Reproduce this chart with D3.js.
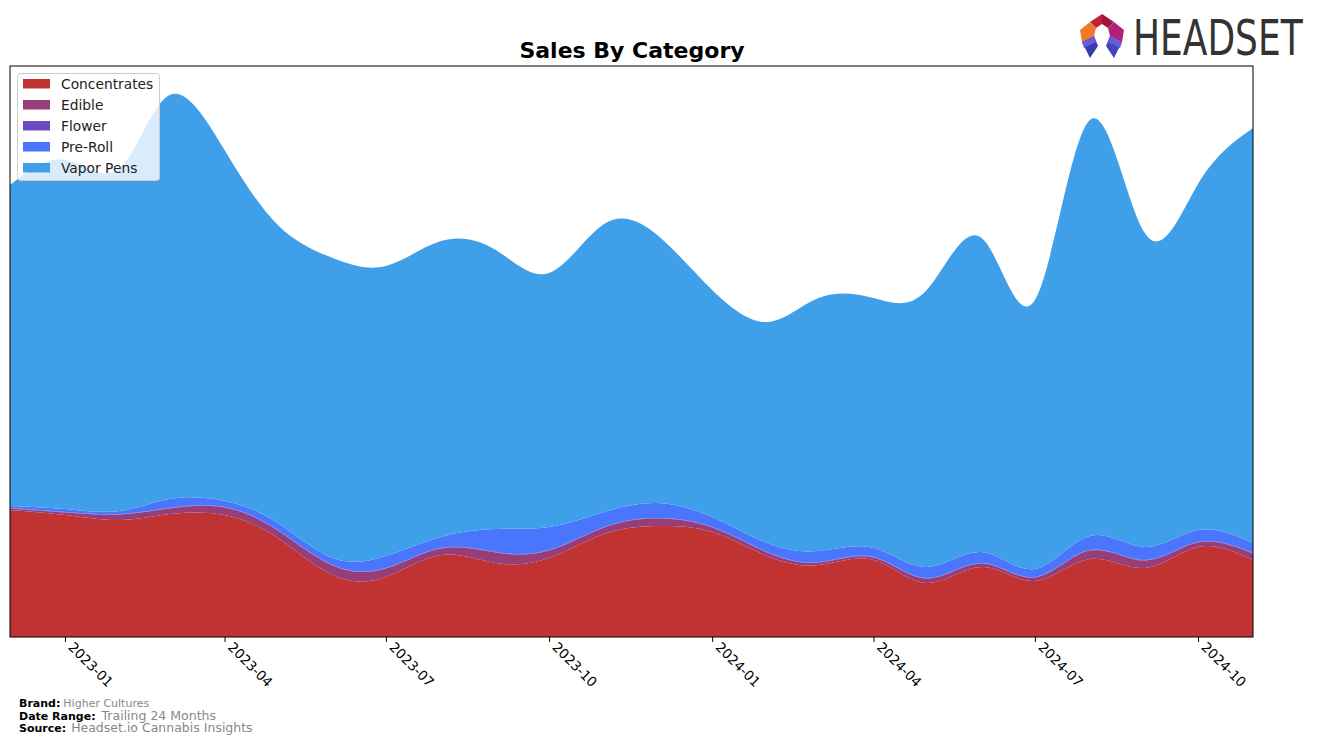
<!DOCTYPE html>
<html><head><meta charset="utf-8">
<script src="https://cdn.jsdelivr.net/npm/d3@7"></script>
<style>body{margin:0;background:#fff;} svg{display:block;font-family:"DejaVu Sans",sans-serif;}</style>
</head><body>
<svg id="c" width="1317" height="744"></svg>
<script>
const months = ["2022-12","2023-01","2023-02","2023-03","2023-04","2023-05","2023-06","2023-07","2023-08","2023-09","2023-10","2023-11","2023-12","2024-01","2024-02","2024-03","2024-04","2024-05","2024-06","2024-07","2024-08","2024-09","2024-10","2024-11"];
const categories = ["Concentrates","Edible","Flower","Pre-Roll","Vapor Pens"];
const concentrates = [127,122,117,123,122,99,62,60,82,74,79,103,111,105,81,72,77,54,70,56,78,69,90,77];
const edible = [1.5,2.5,5.5,5.5,7.5,7.5,9.5,8.5,6.5,10.5,7.5,6.5,7.5,4.5,3.5,2.5,2.5,4.5,3.5,3.5,8.5,7.5,4.5,6.5];
const flower = [0.6,0.6,0.5,0.5,0.5,0.5,0.5,0.5,0.5,0.5,0.5,0.5,0.5,0.5,0.5,0.5,0.5,0.5,0.5,0.5,0.5,0.5,0.5,0.5];
const preRoll = [2,3,3,9,6,7,7,12,11,23,23,15,15,10,9,11,9,11,11,8,14,13,12,10];
const vaporPens = [321,349,343,404,351,298,300,290,296,279,254,288,268,227,221,253,250,277,314,269,416,314,346,415];
const tickLabels = ["2023-01","2023-04","2023-07","2023-10","2024-01","2024-04","2024-07","2024-10"];
const colors = ["#c13232","#973d78","#6c4bc0","#4a76fd","#3fa0e9"];

const parse = d3.timeParse("%Y-%m");
const seriesVals = [concentrates, edible, flower, preRoll, vaporPens];
const table = months.map((m,i)=>{const o={date:parse(m)}; categories.forEach((c,j)=>o[c]=seriesVals[j][i]); return o;});

const svg = d3.select("#c");
const L=10,R=1253,T=66,B=637;
const x = d3.scaleTime().domain([parse(months[0]), parse(months[months.length-1])]).range([L,R]);
const y = d3.scaleLinear().domain([0,571]).range([B,T]);

const stack = d3.stack().keys(categories);
const layers = stack(table);
const area = d3.area().curve(d3.curveNatural)
  .x(d=>x(d.data.date)).y0(d=>y(d[0])).y1(d=>y(d[1]));

svg.append("defs").append("clipPath").attr("id","clip").append("rect")
  .attr("x",L).attr("y",T).attr("width",R-L).attr("height",B-T);
svg.append("g").attr("clip-path","url(#clip)").selectAll("path").data(layers).join("path")
  .attr("d",area).attr("fill",(d,i)=>colors[i]);

// frame
svg.append("rect").attr("x",L).attr("y",T).attr("width",R-L).attr("height",B-T)
  .attr("fill","none").attr("stroke","#000").attr("stroke-width",1);

// x axis
const ticks = tickLabels.map(t=>parse(t));
const ax = svg.append("g").attr("transform",`translate(0,${B})`)
  .call(d3.axisBottom(x).tickValues(ticks).tickFormat(d3.timeFormat("%Y-%m")).tickSize(5).tickSizeOuter(0));
ax.select(".domain").remove();
ax.selectAll(".tick line").attr("stroke","#000");
ax.selectAll(".tick text").attr("font-size",13.5).attr("fill","#000")
  .attr("font-family","DejaVu Sans")
  .attr("text-anchor","start").attr("dy",null).attr("y",0)
  .attr("transform","translate(2,11) rotate(45)");

// title
svg.append("text").attr("x",632).attr("y",58).attr("text-anchor","middle")
  .attr("font-size",22).attr("font-weight","bold").text("Sales By Category");

// legend
const lg = svg.append("g");
lg.append("rect").attr("x",17.5).attr("y",73.5).attr("width",142).attr("height",107).attr("rx",3)
  .attr("fill","#fff").attr("fill-opacity",0.8).attr("stroke","#ccc");
categories.forEach((c,i)=>{
  const yy = 84 + i*21;
  lg.append("rect").attr("x",23).attr("y",yy-5).attr("width",27).attr("height",9.5).attr("fill",colors[i]);
  lg.append("text").attr("x",61).attr("y",yy+5).attr("font-size",13.8).attr("fill","#222").text(c);
});

// footer
const foot = [["Brand:","Higher Cultures",11,3],["Date Range:","Trailing 24 Months",12.5,6],["Source:","Headset.io Cannabis Insights",12.5,5]];
foot.forEach((f,i)=>{
  const yy = 707 + i*12.7;
  const t = svg.append("text").attr("x",19).attr("y",yy);
  t.append("tspan").attr("font-size",11).attr("font-weight","bold").attr("fill","#000").text(f[0]);
  t.append("tspan").attr("dx",f[3]).attr("font-size",f[2]).attr("fill","#888").text(f[1]);
});

// logo
const lgo = svg.append("g");
const polys = [
  [[1090,22],[1102,14],[1102,24],[1096,28]],
  [[1102,14],[1114,22],[1108,28],[1102,24]],
  [[1114,22],[1124,30],[1122,42],[1110,36],[1108,28]],
  [[1090,22],[1096,28],[1094,36],[1082,42],[1080,30]],
  [[1082,42],[1094,36],[1098,46],[1090,58]],
  [[1122,42],[1110,36],[1106,46],[1114,58]]
];
const pc = ["#c0223a","#a3163c","#b0217a","#f07a2a","#3c3ca8","#4444b8"];
polys.forEach((p,i)=>lgo.append("polygon").attr("points",p.map(q=>q.join(",")).join(" ")).attr("fill",pc[i]));
lgo.append("polygon").attr("points","1082,42 1094,36 1096,42 1084,48").attr("fill","#6a5ad8");
lgo.append("polygon").attr("points","1122,42 1110,36 1108,42 1120,48").attr("fill","#6a5ad8");
lgo.append("text").attr("transform","translate(1133,55) scale(0.72,1)").attr("font-size",50).attr("fill","#333")
  .attr("font-family","DejaVu Sans").text("HEADSET");
</script>
</body></html>
